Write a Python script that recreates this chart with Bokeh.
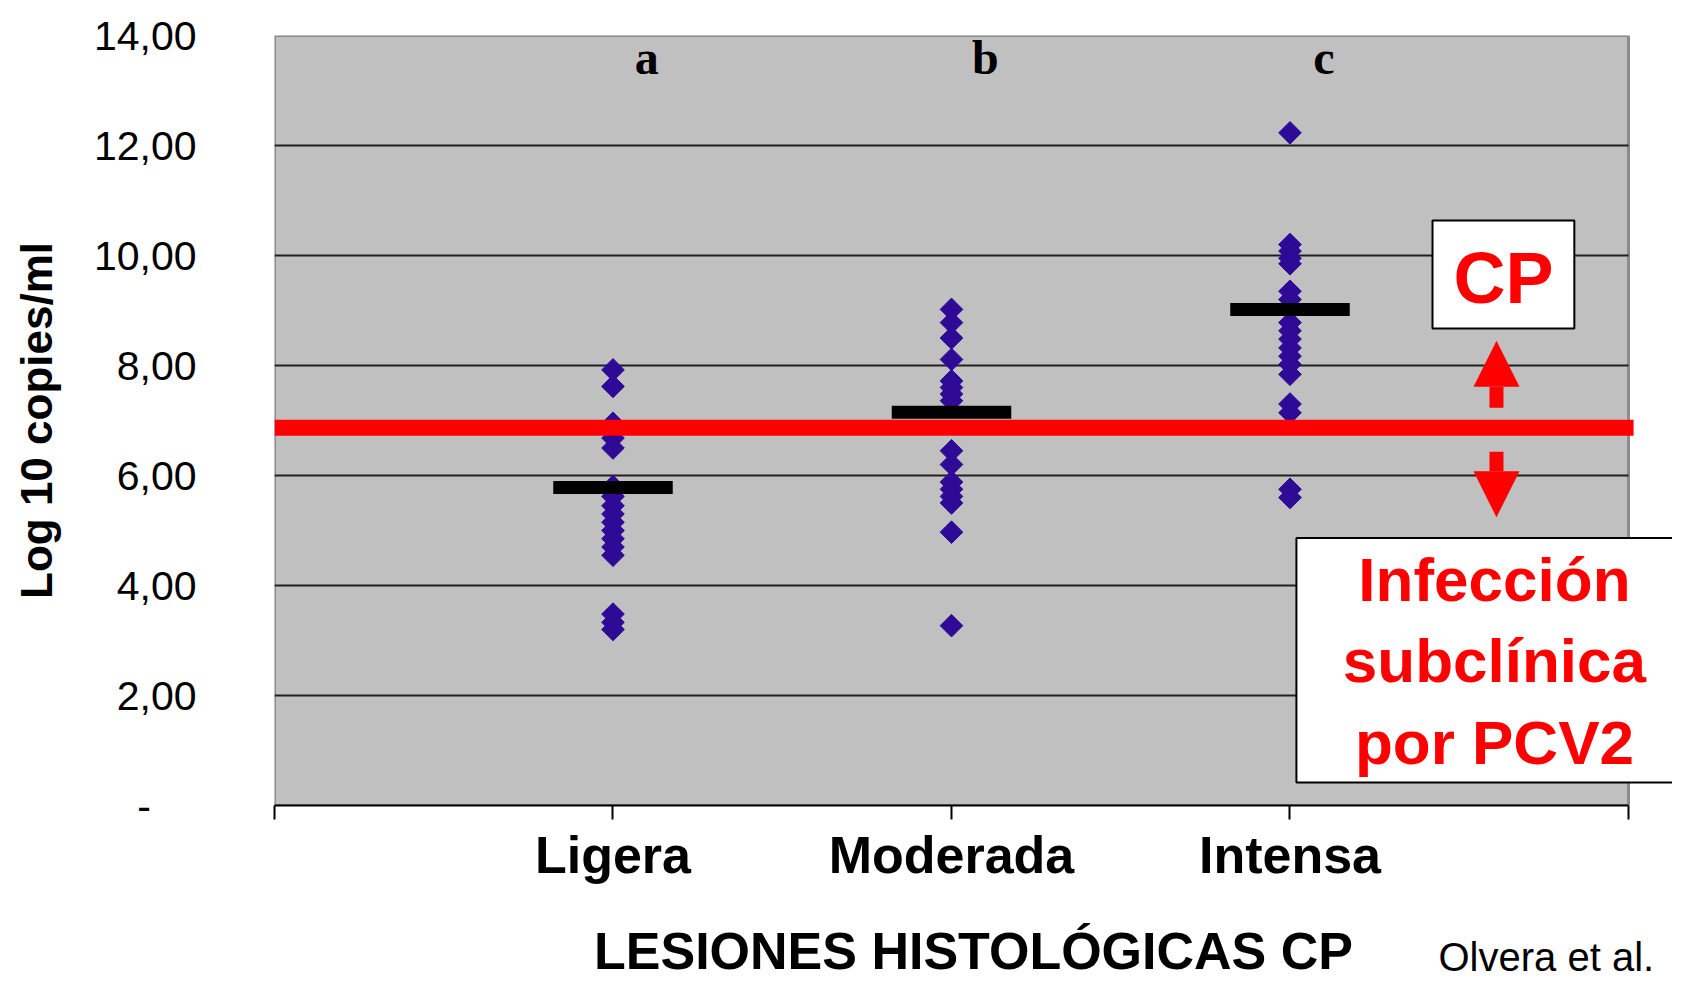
import numpy as np
from bokeh.plotting import figure
from bokeh.models import Range1d, FixedTicker, Arrow, NormalHead, Title
from bokeh.core.properties import value
from bokeh.embed import file_html
from bokeh.resources import INLINE

# ---- data ----
categories = ["Ligera", "Moderada", "Intensa"]
cat_pos = [1, 2, 3]
ligera = [7.92, 7.62, 6.95, 6.68, 6.5, 5.8, 5.62, 5.45, 5.3, 5.15, 5.0, 4.85,
          4.7, 4.55, 3.48, 3.33, 3.2]
moderada = [9.02, 8.78, 8.5, 8.11, 7.72, 7.6, 7.48, 7.36, 6.45, 6.2, 5.88, 5.75,
            5.62, 5.5, 4.97, 3.27]
intensa = [12.23, 10.2, 10.08, 9.95, 9.85, 9.35, 9.2, 9.05, 8.78, 8.63, 8.48, 8.32,
           8.17, 8.02, 7.84, 7.3, 7.14, 5.75, 5.6]
means = [5.78, 7.15, 9.02]
letters = ["a", "b", "c"]
threshold = 6.87
y_ticks = [0, 2, 4, 6, 8, 10, 12, 14]
y_tick_labels = ["-\u00a0\u00a0\u00a0\u00a0", "2,00", "4,00", "6,00", "8,00", "10,00", "12,00", "14,00"]
x_ticks = [0, 1, 2, 3, 4]
y_label = "Log 10 copies/ml"
x_label = "LESIONES HISTOLÓGICAS CP"
cp_text = "CP"
box_text = "Infección\nsubclínica\npor PCV2"
source_text = "Olvera et al."

SANS = value("Liberation Sans")
SERIF = value("Liberation Serif")
RED = "#FF0000"
MARK = "#2E0A96"

p = figure(width=1672, height=982, x_range=Range1d(0, 4.130), y_range=Range1d(0, 14),
           output_backend="svg", toolbar_location=None,
           min_border_left=274, min_border_right=0, min_border_top=35, min_border_bottom=175)
p.background_fill_color = "white"
p.border_fill_color = "white"
p.outline_line_color = None
p.grid.visible = False

# plot area
p.quad(left=0, right=4, bottom=0, top=14, fill_color="#C0C0C0",
       line_color="#8C8C8C", line_width=3)
grid_vals = y_ticks[1:-1]
p.segment(x0=[0] * len(grid_vals), x1=[4] * len(grid_vals), y0=grid_vals, y1=grid_vals,
          line_color="#202020", line_width=2)

# points
for pos, vals in zip(cat_pos, [ligera, moderada, intensa]):
    p.scatter(x=[pos] * len(vals), y=vals, marker="square", angle=np.pi / 4, size=16,
              fill_color=MARK, line_color=MARK, line_width=1)

# mean bars
p.rect(x=cat_pos, y=means, width=0.353, height=13, height_units="screen",
       fill_color="black", line_color=None)

# threshold line
p.segment(x0=[0], x1=[4.015], y0=[threshold], y1=[threshold], line_color=RED,
          line_width=16, line_cap="butt")

# significance letters
p.text(x=[c + 0.1 for c in cat_pos], y=[13.6] * 3, text=letters, text_font=SERIF,
       text_font_style="bold", text_font_size="48px", text_align="center",
       text_baseline="middle", text_color="black")

# CP box
p.quad(left=3.421, right=3.840, bottom=8.675, top=10.635, fill_color="white",
       line_color="black", line_width=2)
p.text(x=[3.631], y=[9.6], text=[cp_text], text_font=SANS, text_font_style="bold",
       text_font_size="72px", text_align="center", text_baseline="middle", text_color=RED)

# arrows
p.add_layout(Arrow(end=NormalHead(size=46, fill_color=RED, line_color=RED, line_width=0),
                   x_start=3.61, y_start=7.23, x_end=3.61, y_end=8.45,
                   line_color=RED, line_width=14))
p.add_layout(Arrow(end=NormalHead(size=46, fill_color=RED, line_color=RED, line_width=0),
                   x_start=3.61, y_start=6.43, x_end=3.61, y_end=5.24,
                   line_color=RED, line_width=14))

# Infection box
p.quad(left=3.019, right=4.4, bottom=0.417, top=4.864, fill_color="white",
       line_color="black", line_width=2)
p.text(x=[3.604], y=[2.63], text=[box_text], text_font=SANS, text_font_style="bold",
       text_font_size="62px", text_align="center", text_baseline="middle",
       text_color=RED, text_line_height=1.18)

# axes
xa = p.xaxis[0]
xa.ticker = FixedTicker(ticks=x_ticks)
xa.major_label_overrides = {0: "", 1: categories[0], 2: categories[1], 3: categories[2], 4: ""}
xa.bounds = (0, 4)
xa.axis_line_color = "black"
xa.axis_line_width = 2
xa.major_tick_line_color = "black"
xa.major_tick_line_width = 2
xa.major_tick_out = 14
xa.major_tick_in = 0
xa.minor_tick_line_color = None
xa.major_label_text_font = "Liberation Sans"
xa.major_label_text_font_style = "bold"
xa.major_label_text_font_size = "52px"
xa.major_label_text_color = "black"
xa.major_label_standoff = 6
xa.axis_label = x_label
xa.axis_label_text_font = "Liberation Sans"
xa.axis_label_text_font_style = "bold"
xa.axis_label_text_font_size = "52px"
xa.axis_label_text_color = "black"
xa.axis_label_standoff = 35

ya = p.yaxis[0]
ya.ticker = FixedTicker(ticks=y_ticks)
ya.major_label_overrides = {t: l for t, l in zip(y_ticks, y_tick_labels)}
ya.axis_line_color = None
ya.major_tick_line_color = None
ya.minor_tick_line_color = None
ya.major_label_text_font = "Liberation Sans"
ya.major_label_text_font_size = "41px"
ya.major_label_text_color = "black"
ya.major_label_standoff = 72
ya.axis_label = y_label
ya.axis_label_text_font = "Liberation Sans"
ya.axis_label_text_font_style = "bold"
ya.axis_label_text_font_size = "44px"
ya.axis_label_text_color = "black"
ya.axis_label_standoff = 30

src = Title(text=source_text, align="left", offset=1164, standoff=-96, vertical_align="top",
            text_font="Liberation Sans", text_font_size="40px", text_font_style="normal",
            text_color="black")
p.add_layout(src, "below")

open("out.html", "w").write(file_html(p, INLINE))
